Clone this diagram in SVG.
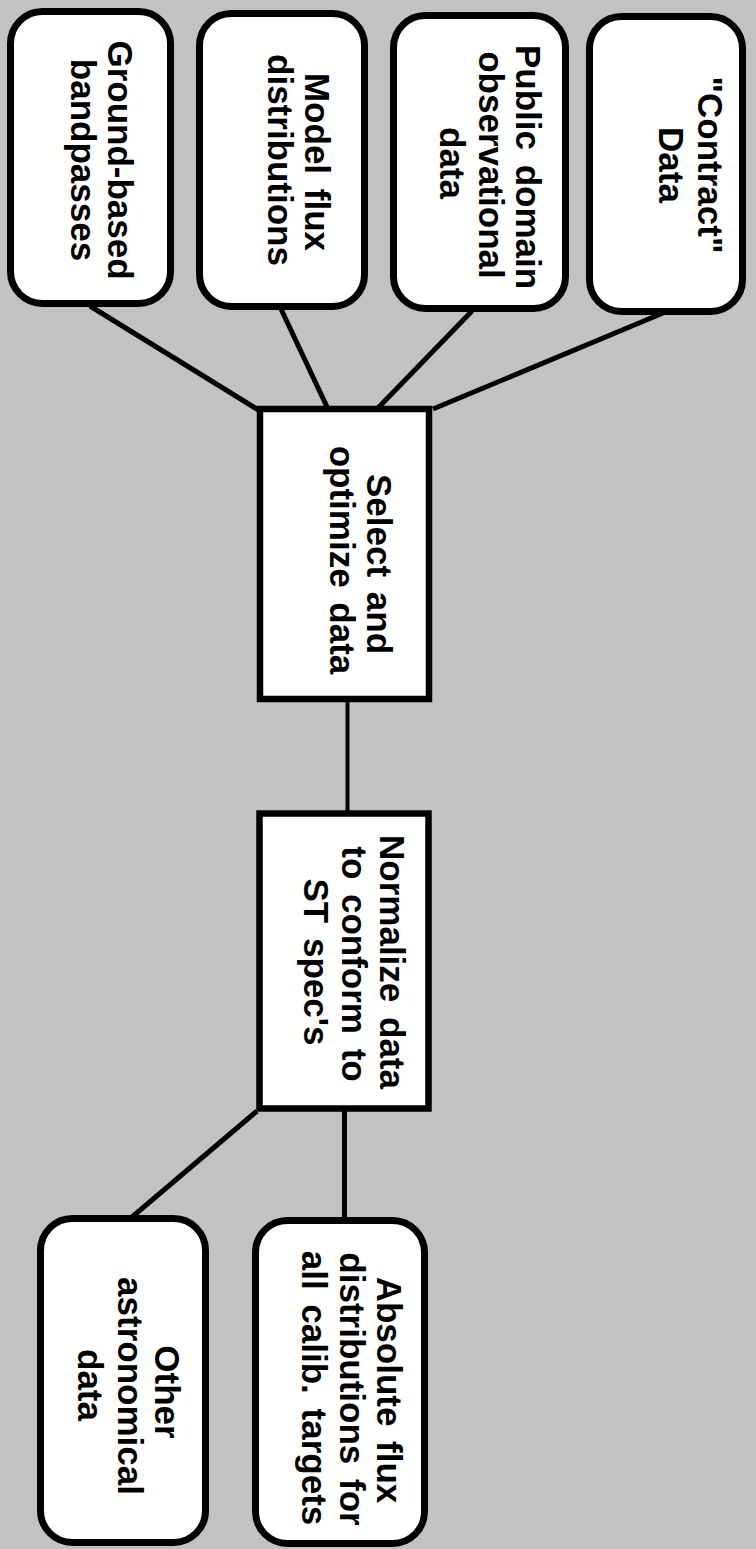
<svg xmlns="http://www.w3.org/2000/svg" width="756" height="1549" viewBox="0 0 756 1549">
<style>
.bg{fill:#c2c2c2}
.rb{fill:#fff;stroke:#000;stroke-width:7}
.sb{fill:#fff;stroke:#000;stroke-width:6.5}
.c{stroke:#000;stroke-width:5;fill:none;stroke-linecap:butt}
.t{font-family:"Liberation Sans",Arial,Helvetica,sans-serif;font-weight:bold;font-size:35px;fill:#000;text-anchor:middle;word-spacing:5px}
</style>
<rect class="bg" x="0" y="0" width="756" height="1549"/>
<g id="connectors">
<line class="c" x1="90" y1="306" x2="260" y2="411"/>
<line class="c" x1="281" y1="309" x2="328" y2="409"/>
<line class="c" x1="472" y1="311" x2="377" y2="409"/>
<line class="c" x1="663" y1="313" x2="433" y2="409"/>
<line class="c" x1="347.5" y1="702" x2="347.5" y2="812" style="stroke-width:4"/>
<line class="c" x1="257" y1="1111" x2="132" y2="1217"/>
<line class="c" x1="344.5" y1="1110" x2="344.5" y2="1219"/>
</g>
<g id="ground">
<rect class="rb" x="10.5" y="11.5" width="160" height="292" rx="32"/>
<text class="t" transform="translate(108,160) rotate(90)">Ground-based</text>
<text class="t" transform="translate(71,160) rotate(90)">bandpasses</text>
</g>
<g id="model">
<rect class="rb" x="199.5" y="13.5" width="165" height="293" rx="32"/>
<text class="t" transform="translate(305,162) rotate(90)">Model flux</text>
<text class="t" transform="translate(268,160) rotate(90)">distributions</text>
</g>
<g id="public">
<rect class="rb" x="393.5" y="15.5" width="172" height="293" rx="32"/>
<text class="t" transform="translate(516,167) rotate(90)">Public domain</text>
<text class="t" transform="translate(479,165) rotate(90)">observational</text>
<text class="t" transform="translate(440,163) rotate(90)">data</text>
</g>
<g id="contract">
<rect class="rb" x="589.5" y="16.5" width="153" height="295" rx="32"/>
<text class="t" transform="translate(698,165) rotate(90)">"Contract"</text>
<text class="t" transform="translate(659,165) rotate(90)">Data</text>
</g>
<g id="select">
<rect class="sb" x="260" y="409" width="169" height="290"/>
<text class="t" transform="translate(367,564) rotate(90)">Select and</text>
<text class="t" transform="translate(330,560) rotate(90)">optimize data</text>
</g>
<g id="normalize">
<rect class="sb" x="259.5" y="813.5" width="169" height="295"/>
<text class="t" transform="translate(380,962) rotate(90)">Normalize data</text>
<text class="t" transform="translate(342,964) rotate(90)">to conform to</text>
<text class="t" transform="translate(304,962) rotate(90)">ST spec's</text>
</g>
<g id="other">
<rect class="rb" x="40.5" y="1218.5" width="165" height="324" rx="32"/>
<text class="t" transform="translate(155,1392) rotate(90)">Other</text>
<text class="t" transform="translate(118,1386) rotate(90)">astronomical</text>
<text class="t" transform="translate(78,1385) rotate(90)">data</text>
</g>
<g id="absolute">
<rect class="rb" x="255.5" y="1220.5" width="169" height="323" rx="32"/>
<text class="t" transform="translate(377,1390) rotate(90)">Absolute flux</text>
<text class="t" transform="translate(340,1389) rotate(90)">distributions for</text>
<text class="t" transform="translate(302,1388) rotate(90)">all calib. targets</text>
</g>
</svg>
